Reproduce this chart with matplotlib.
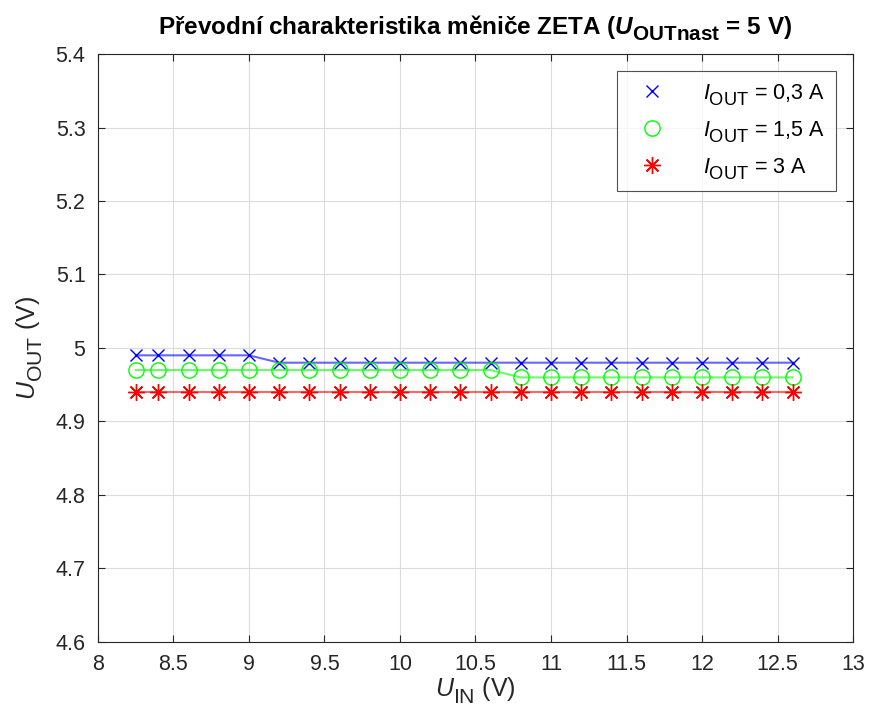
import matplotlib.pyplot as plt
import matplotlib._mathtext as mt

# data
u_in = [8.25, 8.4, 8.6, 8.8, 9.0, 9.2, 9.4, 9.6, 9.8, 10.0, 10.2, 10.4,
        10.6, 10.8, 11.0, 11.2, 11.4, 11.6, 11.8, 12.0, 12.2, 12.4, 12.6]
u_out_03 = [4.99] * 5 + [4.98] * 18
u_out_15 = [4.97] * 13 + [4.96] * 10
u_out_3 = [4.94] * 23

labels = ["$\\mathit{I}_{\\mathrm{OUT}}$ = 0,3 A",
          "$\\mathit{I}_{\\mathrm{OUT}}$ = 1,5 A",
          "$\\mathit{I}_{\\mathrm{OUT}}$ = 3 A"]

# MATLAB-like subscripts: bigger and lower than mathtext default
mt.SHRINK_FACTOR = 0.85
mt.FontConstantsBase.sub1 = 0.5
mt.FontConstantsBase.sub2 = 0.6

fam = 'Liberation Sans'
plt.rcParams['font.family'] = [fam, 'DejaVu Sans']
plt.rcParams['mathtext.fontset'] = 'custom'
plt.rcParams['mathtext.rm'] = fam
plt.rcParams['mathtext.it'] = fam + ':italic'
plt.rcParams['mathtext.bf'] = fam + ':bold'
plt.rcParams['mathtext.bfit'] = fam + ':bold:italic'

fig = plt.figure(figsize=(8.7, 7.24), dpi=100)
ax = fig.add_axes([0.1126, 0.1133, 0.8679, 0.8121])

series = [(u_out_03, 'x', (0, 0, 1), 9),
          (u_out_15, 'o', (0, 1, 0), 11),
          (u_out_3, (8, 2, 0), (1, 0, 0), 12)]
for (vals, m, c, ms), lab in zip(series, labels):
    ax.plot(u_in, vals, color=c, alpha=0.6, linewidth=1.5)
    ax.plot(u_in, vals, linestyle='none', marker=m, markersize=ms,
            markerfacecolor='none' if m == 'o' else c, markeredgecolor=c,
            markeredgewidth=1.0, label=lab)

ax.set_xlim(8, 13)
ax.set_ylim(4.6, 5.4)
ax.set_xticks([8, 8.5, 9, 9.5, 10, 10.5, 11, 11.5, 12, 12.5, 13])
ax.set_xticklabels(['8', '8.5', '9', '9.5', '10', '10.5', '11', '11.5', '12', '12.5', '13'])
ax.set_yticks([4.6, 4.7, 4.8, 4.9, 5.0, 5.1, 5.2, 5.3, 5.4])
ax.set_yticklabels(['4.6', '4.7', '4.8', '4.9', '5', '5.1', '5.2', '5.3', '5.4'])
ax.tick_params(direction='in', top=True, right=True, labelsize=15.5, length=5,
               color='#262626', labelcolor='#262626', pad=9)
ax.grid(True, color='#dcdcdc', linewidth=0.8)
ax.set_axisbelow(True)
for s in ax.spines.values():
    s.set_color('#262626')
    s.set_linewidth(0.8)

ax.set_xlabel("$\\mathit{U}_{\\mathrm{IN}}$ (V)", fontsize=18, color='#262626', labelpad=0)
ax.set_ylabel("$\\mathit{U}_{\\mathrm{OUT}}$ (V)", fontsize=18, color='#262626', labelpad=8)
ax.set_title("Převodní charakteristika měniče ZETA ($\\mathbfit{U}_{\\mathbf{OUTnast}}$ = 5 V)",
             fontsize=17.5, fontweight='bold', pad=14)

leg = ax.legend(loc='upper right', fontsize=15.5, frameon=True, fancybox=False,
                edgecolor='#262626', borderaxespad=0.8, handletextpad=1.3,
                labelspacing=0.55, borderpad=0.5, handlelength=2.2)
leg.get_frame().set_linewidth(0.8)

fig.savefig('out.png', dpi=100)
